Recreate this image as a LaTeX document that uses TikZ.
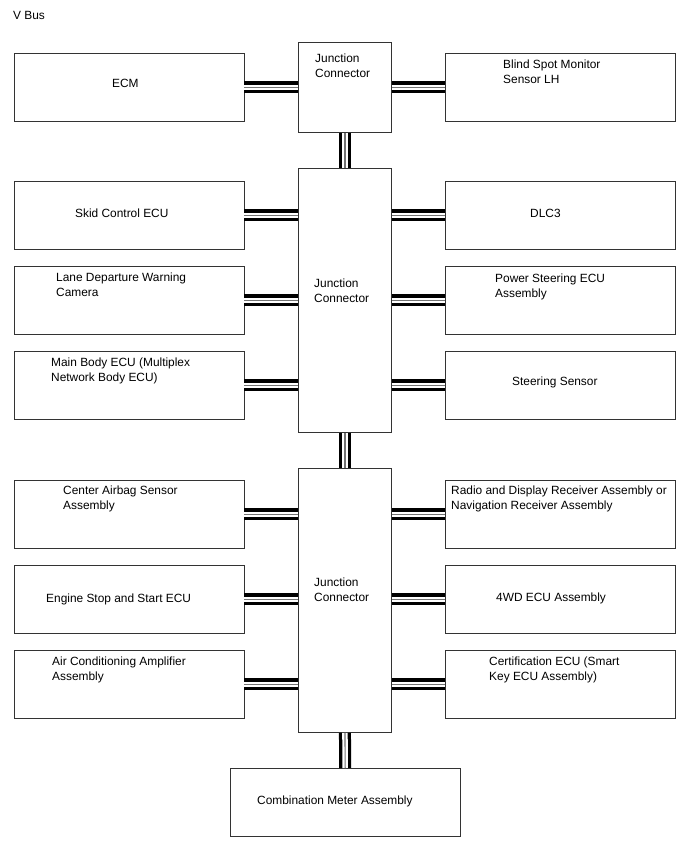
\documentclass[tikz,border=0pt]{standalone}
\usepackage{fontspec}
\setmainfont{Liberation Sans}
\begin{document}
\begin{tikzpicture}[x=1pt,y=-1pt,
  box/.style={draw=black!80, line width=0.9pt, fill=white, inner sep=0pt, anchor=north west, minimum width=229.5pt, minimum height=68pt},
  jbox/.style={box, minimum width=93pt},
  txt/.style={inner sep=0pt, anchor=base west, align=left, font=\fontsize{11.9}{14.5}\selectfont},
  bus/.style={draw=black, line width=12pt, postaction={draw=white, line width=5.5pt}, postaction={draw=black!55, line width=1.1pt}}]
\useasboundingbox (0,0) rectangle (688,852);
% boxes
\node[box] (ecm) at (14,53) {};
\node[jbox, minimum height=90pt] (j1) at (298,42) {};
\node[box] (bsm) at (445,53) {};
\node[jbox, minimum height=264pt] (j2) at (298,168) {};
\node[box] (skid) at (14,181) {};
\node[box] (dlc) at (445,181) {};
\node[box] (lane) at (14,266) {};
\node[box] (pst) at (445,266) {};
\node[box] (mbody) at (14,351) {};
\node[box] (ssen) at (445,351) {};
\node[jbox, minimum height=264pt] (j3) at (298,468) {};
\node[box] (cab) at (14,480) {};
\node[box] (radio) at (445,480) {};
\node[box] (ess) at (14,565) {};
\node[box] (fwd) at (445,565) {};
\node[box] (ac) at (14,650) {};
\node[box] (cert) at (445,650) {};
\node[box] (comb) at (230,768) {};
% connectors
\draw[bus] (ecm.east) -- (j1.west |- ecm.east);
\draw[bus] (j1.east |- bsm.west) -- (bsm.west);
\draw[bus] (j1.south) -- (j2.north);
\draw[bus] (skid.east) -- (j2.west |- skid.east);
\draw[bus] (lane.east) -- (j2.west |- lane.east);
\draw[bus] (mbody.east) -- (j2.west |- mbody.east);
\draw[bus] (j2.east |- dlc.west) -- (dlc.west);
\draw[bus] (j2.east |- pst.west) -- (pst.west);
\draw[bus] (j2.east |- ssen.west) -- (ssen.west);
\draw[bus] (j2.south) -- (j3.north);
\draw[bus] (cab.east) -- (j3.west |- cab.east);
\draw[bus] (ess.east) -- (j3.west |- ess.east);
\draw[bus] (ac.east) -- (j3.west |- ac.east);
\draw[bus] (j3.east |- radio.west) -- (radio.west);
\draw[bus] (j3.east |- fwd.west) -- (fwd.west);
\draw[bus] (j3.east |- cert.west) -- (cert.west);
\draw[bus] (j3.south) -- (comb.north);
% texts (multi-line nodes: base = last line)
\node[txt] (tvbus) at (13,19) {V Bus};
\node[txt] (tecm) at (112,87) {ECM};
\node[txt] (tj1) at (315,77) {Junction\\Connector};
\node[txt] (tbsm) at (503,83) {Blind Spot Monitor\\Sensor LH};
\node[txt] (tskid) at (75,217) {Skid Control ECU};
\node[txt] (tdlc) at (530,217) {DLC3};
\node[txt] (tlane) at (56,296) {Lane Departure Warning\\Camera};
\node[txt] (tj2) at (314,302) {Junction\\Connector};
\node[txt] (tpst) at (495,297) {Power Steering ECU\\Assembly};
\node[txt] (tmbody) at (51,381) {Main Body ECU (Multiplex\\Network Body ECU)};
\node[txt] (tssen) at (512,385) {Steering Sensor};
\node[txt] (tcab) at (63,509) {Center Airbag Sensor\\Assembly};
\node[txt] (tradio) at (451,509) {Radio and Display Receiver Assembly or\\Navigation Receiver Assembly};
\node[txt] (tj3) at (314,601) {Junction\\Connector};
\node[txt] (tess) at (46,602) {Engine Stop and Start ECU};
\node[txt] (tfwd) at (496,601) {4WD ECU Assembly};
\node[txt] (tac) at (52,680) {Air Conditioning Amplifier\\Assembly};
\node[txt] (tcert) at (489,680) {Certification ECU (Smart\\Key ECU Assembly)};
\node[txt] (tcomb) at (257,804) {Combination Meter Assembly};
\end{tikzpicture}
\end{document}
